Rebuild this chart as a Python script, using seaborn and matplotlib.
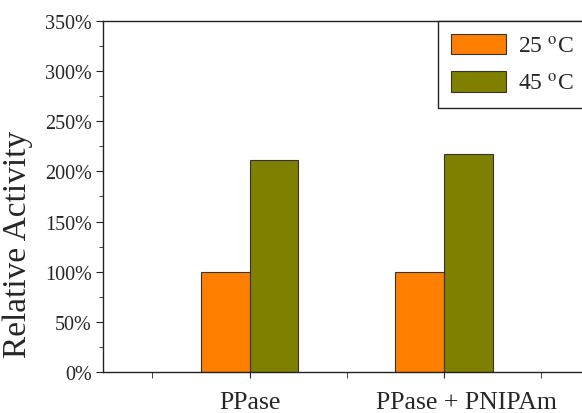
import numpy as np
import pandas as pd
import seaborn as sns
import matplotlib.pyplot as plt
from matplotlib.ticker import MultipleLocator, FuncFormatter
from matplotlib.transforms import ScaledTranslation

samples = ["PPase", "PPase + PNIPAm"]
temps = ["25 $^{\\rm o}$C", "45 $^{\\rm o}$C"]
activity_25 = [100, 100]
activity_45 = [211, 217]

df = pd.DataFrame({
    "sample": samples * 2,
    "temp": [temps[0]] * 2 + [temps[1]] * 2,
    "activity": activity_25 + activity_45,
})

sns.set_style("ticks")
plt.rcParams["font.family"] = ["Liberation Serif", "DejaVu Serif"]
plt.rcParams["mathtext.fontset"] = "stix"

fig = plt.figure(figsize=(5.82, 4.14), dpi=100)
ax = fig.add_axes([0.177, 0.099, 0.84, 0.848])

sns.barplot(data=df, x="sample", y="activity", hue="temp", ax=ax,
            palette=["#ff8000", "#808000"], width=0.5,
            edgecolor="#333333", linewidth=0.8, saturation=1)

ax.set_xlim(-0.754, 1.76)
ax.set_ylim(0, 350)
ax.yaxis.set_major_locator(MultipleLocator(50))
ax.yaxis.set_minor_locator(MultipleLocator(25))
ax.yaxis.set_major_formatter(FuncFormatter(lambda v, p: f"{v:.0f}%"))
ax.set_xticks([0, 1])
ax.set_xticks([-0.5, 0.5, 1.5], minor=True)
ax.tick_params(axis="both", which="both", direction="out", color="#222222")
ax.tick_params(axis="y", which="major", length=5, labelsize=14.5, pad=3)
ax.tick_params(axis="y", which="minor", length=3)
ax.tick_params(axis="x", which="both", length=4, labelsize=18.5, pad=10)
# second category label sits a bit right of its tick in the original
lbl = ax.get_xticklabels()[1]
lbl.set_transform(lbl.get_transform() + ScaledTranslation(22 / 100, 0, fig.dpi_scale_trans))
ax.set_xlabel("")
ax.set_ylabel("Relative Activity", fontsize=24)
ax.yaxis.set_label_coords(-0.143, 0.367)
for s in ax.spines.values():
    s.set_color("#222222")
    s.set_linewidth(1.0)

ax.legend(loc="upper left", bbox_to_anchor=(438 / 582, 1 - 22 / 414),
          bbox_transform=fig.transFigure, borderaxespad=0, fancybox=False,
          edgecolor="#222222", fontsize=17, handlelength=2.35, handleheight=0.95,
          handletextpad=0.5, borderpad=0.55, labelspacing=0.6, title=None,
          framealpha=1)

fig.savefig("out.png", dpi=100)
